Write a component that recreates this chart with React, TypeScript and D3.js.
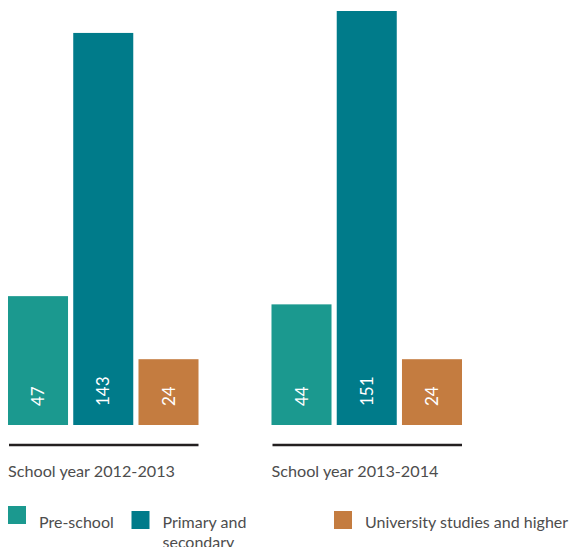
import React from "react";
import * as d3 from "d3";

const groups = ["School year 2012-2013", "School year 2013-2014"];
const categories = ["Pre-school", "Primary and secondary", "University studies and higher"];
const values2012 = [47, 143, 24];
const values2013 = [44, 151, 24];
const seriesByGroup = [values2012, values2013];
const colors = ["#1b998f", "#007b8a", "#c47c40"];
const legendLines = [["Pre-school"], ["Primary and", "secondary"], ["University studies and higher"]];

const W = 571;
const H = 547;
const FONT = "Lato, 'Open Sans', sans-serif";

export default function App() {
  const x0 = d3.scaleBand<string>().domain(groups).range([8, 462]).paddingInner(0.277).paddingOuter(0);
  const x1 = d3.scaleBand<string>().domain(categories).range([0, x0.bandwidth()]).paddingInner(0.08).paddingOuter(0);
  const y = d3.scaleLinear().domain([0, 151]).range([425, 11]);

  const legendX = [8, 131.5, 334];
  const legendSqY = [506, 511, 511];

  return (
    <svg width={W} height={H} style={{ position: "absolute", left: 0, top: 0 }} fontFamily={FONT}>
      {groups.map((g, gi) => {
        const gx = x0(g)!;
        return (
          <g key={g}>
            {categories.map((c, ci) => {
              const v = seriesByGroup[gi][ci];
              const bx = gx + x1(c)!;
              const bw = x1.bandwidth();
              return (
                <g key={c}>
                  <rect x={bx} y={y(v)} width={bw} height={y(0) - y(v)} fill={colors[ci]} />
                  <text
                    transform={`translate(${bx + bw / 2},${y(0) - 19}) rotate(-90)`}
                    dy="0.36em"
                    fill="#fff"
                    fontSize={17}
                    textAnchor="start"
                  >
                    {v}
                  </text>
                </g>
              );
            })}
            <line x1={gx + 1} x2={gx + x0.bandwidth()} y1={445} y2={445} stroke="#231f20" strokeWidth={2.5} />
            <text x={gx} y={477} fontSize={16.2} fill="#4d4d4d">
              {g}
            </text>
          </g>
        );
      })}
      {categories.map((c, i) => (
        <g key={c}>
          <rect x={legendX[i]} y={legendSqY[i]} width={18} height={18} fill={colors[i]} />
          {legendLines[i].map((ln, li) => (
            <text key={li} x={legendX[i] + 31} y={528 + li * 19.5} fontSize={16} fill="#4d4d4d">
              {ln}
            </text>
          ))}
        </g>
      ))}
    </svg>
  );
}
